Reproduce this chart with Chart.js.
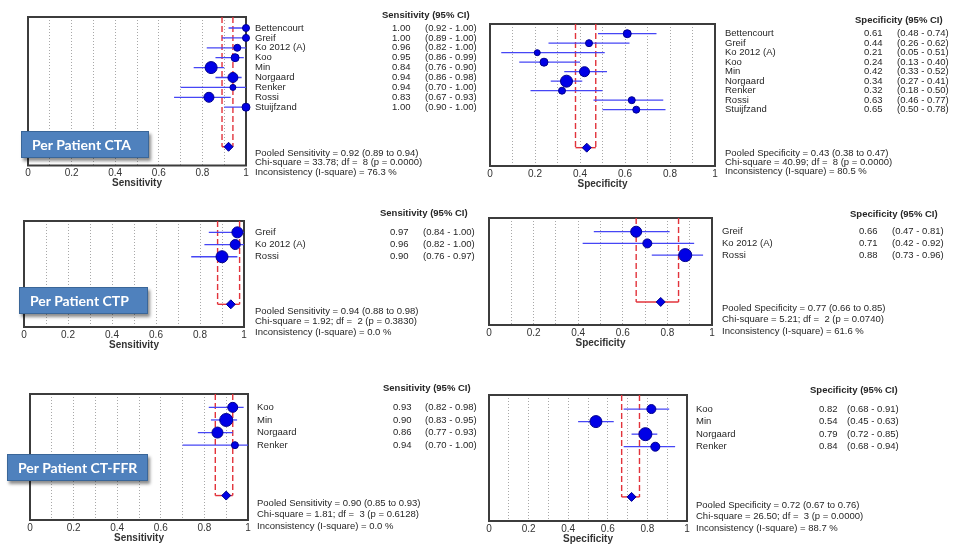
<!DOCTYPE html>
<html>
<head>
<meta charset="utf-8">
<script src="https://cdn.jsdelivr.net/npm/chart.js@4.4.1/dist/chart.umd.min.js"></script>
<style>
  html, body { margin: 0; padding: 0; background: #fff; }
  #wrap { position: relative; width: 956px; height: 551px; overflow: hidden; }
  canvas { position: absolute; left: 0; top: 0; }
  .tag {
    position: absolute; height: 27px; box-sizing: border-box;
    background: #4f81bd; border: 1px solid #3a6698;
    box-shadow: 2px 3px 3px rgba(0,0,0,.45);
    color: #fff; font: bold 14px Lato, sans-serif; line-height: 25px; padding-left: 10px;
  }
</style>
</head>
<body>
<div id="wrap">
  <canvas id="c1" width="956" height="551"></canvas>
  <canvas id="c2" width="956" height="551"></canvas>
  <canvas id="c3" width="956" height="551"></canvas>
  <canvas id="c4" width="956" height="551"></canvas>
  <canvas id="c5" width="956" height="551"></canvas>
  <canvas id="c6" width="956" height="551"></canvas>
  <div class="tag" style="left:21px;top:131px;width:128px">Per Patient CTA</div>
  <div class="tag" style="left:19px;top:287px;width:129px">Per Patient CTP</div>
  <div class="tag" style="left:7px;top:454px;width:141px">Per Patient CT-FFR</div>
</div>
<script>
// tick labels shown on every x axis
const tickLabels = [0, 0.2, 0.4, 0.6, 0.8, 1];

// Per patient CTA
const ctaStudies = ['Bettencourt', 'Greif', 'Ko 2012 (A)', 'Koo', 'Min', 'Norgaard', 'Renker', 'Rossi', 'Stuijfzand'];
const ctaSens     = [1.00, 1.00, 0.96, 0.95, 0.84, 0.94, 0.94, 0.83, 1.00];
const ctaSensLow  = [0.92, 0.89, 0.82, 0.86, 0.76, 0.86, 0.70, 0.67, 0.90];
const ctaSensHigh = [1.00, 1.00, 1.00, 0.99, 0.90, 0.98, 1.00, 0.93, 1.00];
const ctaSensWeight = [3.5, 3.5, 3.5, 4, 6, 5, 3, 5, 4];
const ctaSensPooled = [0.92, 0.89, 0.94];          // estimate, low, high
const ctaSensHet    = ['33.78', 8, '0.0000', '76.3']; // chi-square, df, p, I-square
const ctaSpec     = [0.61, 0.44, 0.21, 0.24, 0.42, 0.34, 0.32, 0.63, 0.65];
const ctaSpecLow  = [0.48, 0.26, 0.05, 0.13, 0.33, 0.27, 0.18, 0.46, 0.50];
const ctaSpecHigh = [0.74, 0.62, 0.51, 0.40, 0.52, 0.41, 0.50, 0.77, 0.78];
const ctaSpecWeight = [4, 3.5, 3, 4, 5, 6, 3.5, 3.5, 3.5];
const ctaSpecPooled = [0.43, 0.38, 0.47];
const ctaSpecHet    = ['40.99', 8, '0.0000', '80.5'];

// Per patient CTP
const ctpStudies = ['Greif', 'Ko 2012 (A)', 'Rossi'];
const ctpSens     = [0.97, 0.96, 0.90];
const ctpSensLow  = [0.84, 0.82, 0.76];
const ctpSensHigh = [1.00, 1.00, 0.97];
const ctpSensWeight = [5.5, 5, 6];
const ctpSensPooled = [0.94, 0.88, 0.98];
const ctpSensHet    = ['1.92', 2, '0.3830', '0.0'];
const ctpSpec     = [0.66, 0.71, 0.88];
const ctpSpecLow  = [0.47, 0.42, 0.73];
const ctpSpecHigh = [0.81, 0.92, 0.96];
const ctpSpecWeight = [5.5, 4.5, 6.5];
const ctpSpecPooled = [0.77, 0.66, 0.85];
const ctpSpecHet    = ['5.21', 2, '0.0740', '61.6'];

// Per patient CT-FFR
const ffrStudies = ['Koo', 'Min', 'Norgaard', 'Renker'];
const ffrSens     = [0.93, 0.90, 0.86, 0.94];
const ffrSensLow  = [0.82, 0.83, 0.77, 0.70];
const ffrSensHigh = [0.98, 0.95, 0.93, 1.00];
const ffrSensWeight = [5, 6.5, 5.5, 3.5];
const ffrSensPooled = [0.90, 0.85, 0.93];
const ffrSensHet    = ['1.81', 3, '0.6128', '0.0'];
const ffrSpec     = [0.82, 0.54, 0.79, 0.84];
const ffrSpecLow  = [0.68, 0.45, 0.72, 0.68];
const ffrSpecHigh = [0.91, 0.63, 0.85, 0.94];
const ffrSpecWeight = [4.5, 6, 6.5, 4.5];
const ffrSpecPooled = [0.72, 0.67, 0.76];
const ffrSpecHet    = ['26.50', 3, '0.0000', '88.7'];

const FONT = '"Liberation Sans", Arial, sans-serif';
const AXIS_H = 24;
const RED = '#e2333b';

// box = plot frame in page pixels [left, top, right, bottom]; yr = row range shown, pr = pooled row
const panels = [
  { id: 'c1', kind: 'Sensitivity', names: ctaStudies, est: ctaSens, lo: ctaSensLow, hi: ctaSensHigh, w: ctaSensWeight, pooled: ctaSensPooled, het: ctaSensHet,
    box: [28, 17, 246, 165.5], yr: [-1.11, 13.89], pr: 12, nameX: 255, valX: 392, ciX: 425, headX: 382, headY: 15, sumY: 153, gap: 9.5 },
  { id: 'c2', kind: 'Specificity', names: ctaStudies, est: ctaSpec, lo: ctaSpecLow, hi: ctaSpecHigh, w: ctaSpecWeight, pooled: ctaSpecPooled, het: ctaSpecHet,
    box: [490, 24, 715, 166], yr: [-1.02, 13.93], pr: 12, nameX: 725, valX: 864, ciX: 897, headX: 855, headY: 20, sumY: 153, gap: 9.4 },
  { id: 'c3', kind: 'Sensitivity', names: ctpStudies, est: ctpSens, lo: ctpSensLow, hi: ctpSensHigh, w: ctpSensWeight, pooled: ctpSensPooled, het: ctpSensHet,
    box: [24, 221, 244, 327], yr: [-0.93, 7.76], pr: 5.9, nameX: 255, valX: 390, ciX: 423, headX: 380, headY: 213, sumY: 311, gap: 10.5 },
  { id: 'c4', kind: 'Specificity', names: ctpStudies, est: ctpSpec, lo: ctpSpecLow, hi: ctpSpecHigh, w: ctpSpecWeight, pooled: ctpSpecPooled, het: ctpSpecHet,
    box: [489, 218, 712, 325], yr: [-1.17, 7.97], pr: 6, nameX: 722, valX: 859, ciX: 892, headX: 850, headY: 214, sumY: 308, gap: 11.7 },
  { id: 'c5', kind: 'Sensitivity', names: ffrStudies, est: ffrSens, lo: ffrSensLow, hi: ffrSensHigh, w: ffrSensWeight, pooled: ffrSensPooled, het: ffrSensHet,
    box: [30, 394, 248, 520], yr: [-1.06, 8.94], pr: 7, nameX: 257, valX: 393, ciX: 425, headX: 383, headY: 388, sumY: 503, gap: 11.7 },
  { id: 'c6', kind: 'Specificity', names: ffrStudies, est: ffrSpec, lo: ffrSpecLow, hi: ffrSpecHigh, w: ffrSpecWeight, pooled: ffrSpecPooled, het: ffrSpecHet,
    box: [489, 395, 687, 521], yr: [-1.12, 8.92], pr: 7, nameX: 696, valX: 819, ciX: 847, headX: 810, headY: 390, sumY: 505, gap: 11.7 }
];

function textPlugin(p) {
  return {
    id: 'forestText',
    beforeDatasetsDraw(chart) {
      const a = chart.chartArea, ctx = chart.ctx;
      ctx.save();
      ctx.strokeStyle = '#3c3c3c';
      ctx.lineWidth = 2;
      ctx.strokeRect(a.left, a.top, a.right - a.left, a.bottom - a.top);
      ctx.restore();
    },
    afterDraw(chart) {
      const ctx = chart.ctx, y = chart.scales.y;
      ctx.save();
      ctx.fillStyle = '#262626';
      ctx.textBaseline = 'middle';
      ctx.font = '9.5px ' + FONT;
      p.names.forEach((n, i) => {
        const py = y.getPixelForValue(i);
        ctx.fillText(n, p.nameX, py);
        ctx.fillText(p.est[i].toFixed(2), p.valX, py);
        ctx.fillText('(' + p.lo[i].toFixed(2) + ' - ' + p.hi[i].toFixed(2) + ')', p.ciX, py);
      });
      const lines = [
        'Pooled ' + p.kind + ' = ' + p.pooled[0].toFixed(2) + ' (' + p.pooled[1].toFixed(2) + ' to ' + p.pooled[2].toFixed(2) + ')',
        'Chi-square = ' + p.het[0] + '; df =  ' + p.het[1] + ' (p = ' + p.het[2] + ')',
        'Inconsistency (I-square) = ' + p.het[3] + ' %'
      ];
      lines.forEach((s, k) => ctx.fillText(s, p.nameX, p.sumY + k * p.gap));
      ctx.font = 'bold 9.5px ' + FONT;
      ctx.fillText(p.kind + ' (95% CI)', p.headX, p.headY);
      ctx.restore();
    }
  };
}

panels.forEach(p => {
  const ciSets = p.names.map((n, i) => ({
    data: [{ x: p.lo[i], y: i }, { x: p.hi[i], y: i }],
    showLine: true, borderColor: '#4646f5', borderWidth: 1.3, pointRadius: 0
  }));
  const dashed = x => ({
    data: [{ x: x, y: p.yr[0] }, { x: x, y: p.pr }],
    showLine: true, borderColor: RED, borderWidth: 1.4, borderDash: [6, 3], pointRadius: 0
  });
  new Chart(document.getElementById(p.id), {
    type: 'scatter',
    data: {
      datasets: [
        { data: p.est.map((v, i) => ({ x: v, y: i })), pointRadius: p.w, backgroundColor: '#0000e6',
          borderColor: '#00008c', borderWidth: 1, clip: false },
        { data: [{ x: p.pooled[0], y: p.pr }], pointStyle: 'rectRot', pointRadius: 4.5,
          backgroundColor: '#0000e6', borderColor: '#00008c', borderWidth: 1, clip: false },
        ...ciSets,
        dashed(p.pooled[1]),
        dashed(p.pooled[2]),
        { data: [{ x: p.pooled[1], y: p.pr }, { x: p.pooled[2], y: p.pr }],
          showLine: true, borderColor: RED, borderWidth: 1.4, pointRadius: 0 }
      ]
    },
    options: {
      responsive: false,
      animation: false,
      events: [],
      layout: { padding: { left: p.box[0], top: p.box[1], right: 956 - p.box[2], bottom: 551 - p.box[3] - AXIS_H } },
      plugins: { legend: { display: false }, tooltip: { enabled: false } },
      scales: {
        x: {
          type: 'linear', min: 0, max: 1,
          afterFit: s => { s.height = AXIS_H; },
          border: { display: false, dash: [1, 2] },
          grid: { drawTicks: false, lineWidth: 1,
            color: c => (c.tick && (c.tick.value < 0.01 || c.tick.value > 0.99)) ? 'rgba(0,0,0,0)' : '#a8a8a8' },
          ticks: { stepSize: 0.1, autoSkip: false, maxRotation: 0, padding: 2, color: '#333',
            font: { size: 10, family: FONT },
            callback: v => {
              const r = Math.round(v * 10) / 10;
              return tickLabels.includes(r) ? String(r) : '';
            } },
          title: { display: true, text: p.kind, color: '#333', padding: 0,
            font: { size: 10, weight: 'bold', family: FONT } }
        },
        y: { type: 'linear', display: false, reverse: true, min: p.yr[0], max: p.yr[1] }
      }
    },
    plugins: [textPlugin(p)]
  });
});
</script>
</body>
</html>
